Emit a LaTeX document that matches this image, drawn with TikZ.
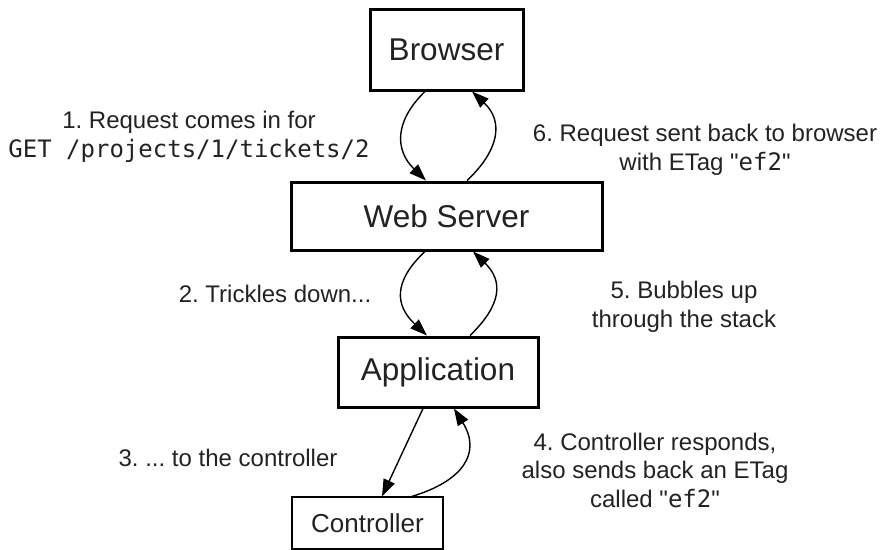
\documentclass[tikz,border=0pt]{standalone}
\usepackage{fontspec}
\setmainfont{Liberation Sans}
\setmonofont{DejaVu Sans Mono}
\usetikzlibrary{arrows.meta, calc}
\definecolor{mytext}{RGB}{34,34,34}
\frenchspacing

\tikzset{
  tier/.style={rectangle, draw, line width=3pt, minimum height=68pt, text=mytext, font=\fontsize{31.5}{36}\selectfont},
  note/.style={align=center, text=mytext, font=\fontsize{24}{28.5}\selectfont},
  flow/.style={line width=1.4pt, -{Triangle[length=17pt, width=12pt]}},
}

\begin{document}
\begin{tikzpicture}[x=1pt, y=-1pt]
\useasboundingbox (0,0) rectangle (882,549);

% Layers
\node[tier, minimum width=153pt, minimum height=81pt] (browser) at (446.5,49.5) {Browser};
\node[tier, minimum width=311pt] (web) at (446.5,216) {Web Server};
\node[tier, minimum width=200pt, minimum height=70pt] (app) at (438,372) {Application};
\node[rectangle, draw, line width=1.3pt, minimum width=151pt, minimum height=52pt, text=mytext, font=\fontsize{26}{30}\selectfont] (ctrl) at (367.5,523) {Controller};

% Going down
\draw[flow] ([xshift=-21.5pt]browser.south) .. controls +(-31,30) and +(-31,-30) .. ([xshift=-20.5pt]web.north);
\draw[flow] ([xshift=-21.5pt]web.south) .. controls +(-32,30) and +(-32,-30) .. ([xshift=-11pt]app.north);
\draw[flow] ([xshift=-15pt]app.south) -- ([xshift=14.5pt]ctrl.north);

% Coming back up
\draw[flow] ([xshift=44.5pt]ctrl.north) .. controls +(50,-15) and +(28,45) .. ([xshift=16pt]app.south);
\draw[flow] ([xshift=32pt]app.north) .. controls +(31,-30) and +(31,30) .. ([xshift=26.5pt]web.south);
\draw[flow] ([xshift=20.5pt]web.north) .. controls +(32,-30) and +(32,30) .. ([xshift=25.5pt]browser.south);

% Step labels
\node[note] (stepone) at (189,137) {1. Request comes in for\\\texttt{GET /projects/1/tickets/2}};
\node[note] (steptwo) at (275,294) {2. Trickles down...};
\node[note] (stepthree) at (228,458) {3. ... to the controller};
\node[note] (stepfour) at (655,470) {4. Controller responds,\\also sends back an ETag\\called \textquotedbl\texttt{ef2}\textquotedbl};
\node[note] (stepfive) at (684,307) {5. Bubbles up\\through the stack};
\node[note] (stepsix) at (705,150) {6. Request sent back to browser\\with ETag \textquotedbl\texttt{ef2}\textquotedbl};

\end{tikzpicture}
\end{document}
